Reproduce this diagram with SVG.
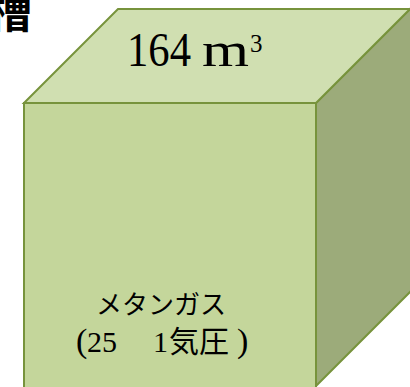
<svg xmlns="http://www.w3.org/2000/svg" width="410" height="387" viewBox="0 0 410 387">
<style>
.edge{stroke:#77933C;stroke-width:2;stroke-linejoin:miter}
.front{fill:#C4D69B}
.top{fill:#D0DFB1}
.side{fill:#9CAB7A}
.serif{font-family:"Liberation Serif","Noto Serif CJK JP",serif;fill:#000}
.jp{font-family:"Noto Sans CJK JP","Noto Sans",sans-serif;fill:#000}
</style>
<rect width="410" height="387" fill="#FFFFFF"/>
<g id="title">
<text class="jp" x="32" y="28" font-size="44" font-weight="bold" text-anchor="end">槽</text>
</g>
<g id="tank">
<polygon class="side edge" points="316,103 410,9 414,5 414,288 316,386"/>
<polygon class="top edge" points="24,103 118,9 410,9 316,103"/>
<rect class="front edge" x="24" y="103" width="292" height="300"/>
<text class="serif" y="66" font-size="48"><tspan x="127" textLength="64" lengthAdjust="spacingAndGlyphs">164</tspan><tspan x="202" textLength="47" lengthAdjust="spacingAndGlyphs">m</tspan></text>
<text class="serif" x="250" y="52" font-size="25">3</text>
<text class="jp" x="161" y="314" font-size="26" text-anchor="middle">メタンガス</text>
<text y="352" font-size="30"><tspan class="serif" x="76" font-size="34">(</tspan><tspan class="serif" x="87">25</tspan><tspan class="serif" x="153">1</tspan><tspan class="jp" x="169">気圧</tspan><tspan class="serif" x="237" font-size="34">)</tspan></text>
</g>
<g id="connectors"/>
</svg>
